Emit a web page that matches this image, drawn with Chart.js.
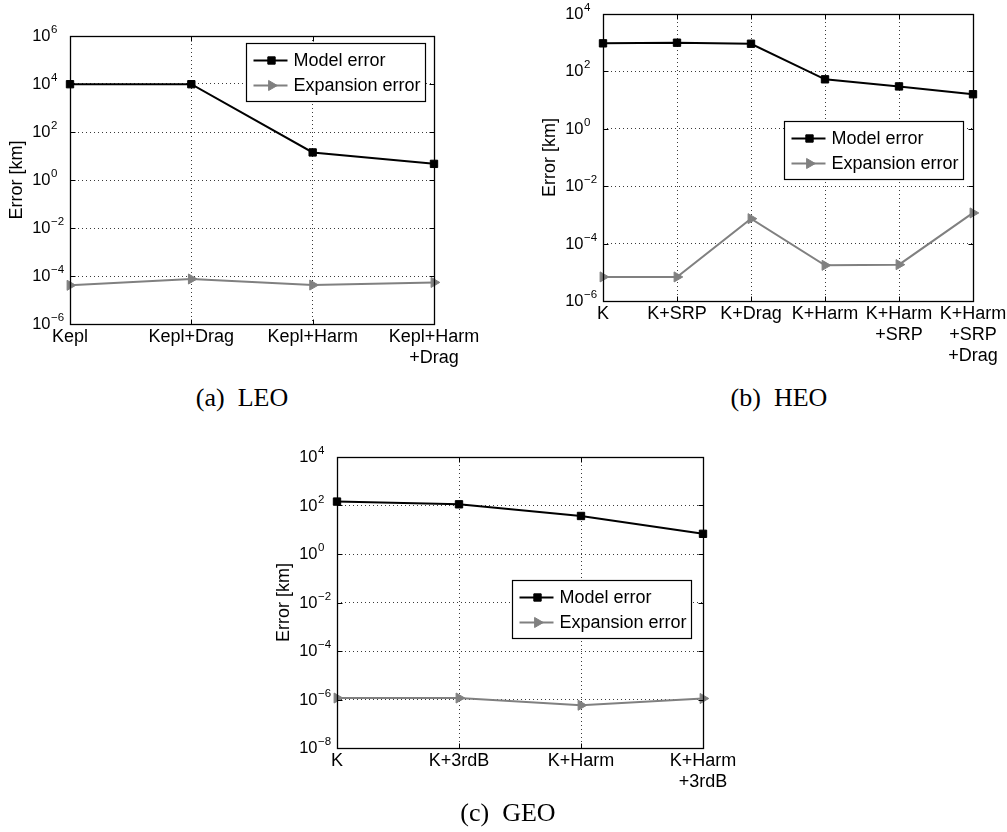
<!DOCTYPE html>
<html>
<head>
<meta charset="utf-8">
<script src="https://cdn.jsdelivr.net/npm/chart.js@4/dist/chart.umd.min.js"></script>
<style>
  html, body { margin: 0; padding: 0; background: #fff; }
  body { width: 1007px; height: 832px; position: relative; overflow: hidden; }
  canvas { position: absolute; display: block; }
  .cap {
    position: absolute;
    font-family: "Liberation Serif", "Times New Roman", serif;
    font-size: 26px; line-height: 26px; color: #000;
    white-space: pre; transform: translateX(-50%);
  }
</style>
</head>
<body>
<canvas id="cLEO" width="500" height="380" style="left:0px;top:0px"></canvas>
<canvas id="cHEO" width="474" height="380" style="left:533px;top:0px"></canvas>
<canvas id="cGEO" width="493" height="380" style="left:267px;top:420px"></canvas>
<div class="cap" style="left:242px;top:385px">(a)  LEO</div>
<div class="cap" style="left:779px;top:385px">(b)  HEO</div>
<div class="cap" style="left:508px;top:800px">(c)  GEO</div>

<script>
// ---- LEO ----
const leoLabels = ['Kepl', 'Kepl+Drag', 'Kepl+Harm', ['Kepl+Harm', '+Drag']];
const leoModel = [9800, 9800, 14.1, 4.7];
const leoExpansion = [4.1e-5, 7.5e-5, 4.2e-5, 5.4e-5];
const leoDecades = [-6, -4, -2, 0, 2, 4, 6];

// ---- HEO ----
const heoLabels = ['K', 'K+SRP', 'K+Drag', 'K+Harm', ['K+Harm', '+SRP'], ['K+Harm', '+SRP', '+Drag']];
const heoModel = [950, 1000, 920, 53, 30, 16];
const heoExpansion = [6.9e-6, 6.9e-6, 7.4e-4, 1.75e-5, 1.85e-5, 1.17e-3];
const heoDecades = [-6, -4, -2, 0, 2, 4];

// ---- GEO ----
const geoLabels = ['K', 'K+3rdB', 'K+Harm', ['K+Harm', '+3rdB']];
const geoModel = [145, 112, 37, 6.8];
const geoExpansion = [1.15e-6, 1.15e-6, 5.8e-7, 1.1e-6];
const geoDecades = [-8, -6, -4, -2, 0, 2, 4];

const seriesNames = ['Model error', 'Expansion error'];
const SANS = '"Liberation Sans", Arial, Helvetica, sans-serif';

// Box frame, inner tick marks, power-of-ten tick labels and the in-axes legend
const axesDecor = {
  id: 'axesDecor',
  afterDraw(chart, args, opts) {
    const { ctx, chartArea: a, scales } = chart;
    const xs = scales.x, ys = scales.y;
    const L = Math.round(a.left) + 0.5, R = Math.round(a.right) + 0.5;
    const T = Math.round(a.top) + 0.5, B = Math.round(a.bottom) + 0.5;
    ctx.save();

    // tick marks pointing inward on all four sides
    ctx.strokeStyle = '#000';
    ctx.lineWidth = 1;
    ctx.beginPath();
    ys.ticks.forEach(t => {
      const py = Math.round(ys.getPixelForValue(t.value)) + 0.5;
      ctx.moveTo(L, py); ctx.lineTo(L + 5, py);
      ctx.moveTo(R, py); ctx.lineTo(R - 5, py);
    });
    xs.ticks.forEach((t, i) => {
      const px = Math.round(xs.getPixelForTick(i)) + 0.5;
      ctx.moveTo(px, B); ctx.lineTo(px, B - 5);
      ctx.moveTo(px, T); ctx.lineTo(px, T + 5);
    });
    ctx.stroke();

    // axes box
    ctx.lineWidth = 1.3;
    ctx.strokeRect(L, T, R - L, B - T);

    // y tick labels: 10 with a raised exponent
    ctx.fillStyle = '#000';
    ys.ticks.forEach(t => {
      const e = Math.round(Math.log10(t.value));
      const py = ys.getPixelForValue(t.value);
      ctx.font = '16.5px ' + SANS;
      ctx.textAlign = 'right';
      ctx.textBaseline = 'middle';
      ctx.fillText('10', a.left - 19.5, py + 0.5);
      ctx.font = '11.5px ' + SANS;
      ctx.textAlign = 'left';
      ctx.textBaseline = 'alphabetic';
      const ex = e < 0 ? '\u2212' + (-e) : String(e);
      ctx.fillText(ex, a.left - 19, py - 3);
    });

    // legend
    const lg = opts.legend;
    ctx.font = '18px ' + SANS;
    const sets = chart.data.datasets;
    const tw = Math.max(...sets.map(d => ctx.measureText(d.label).width));
    const w = Math.round(47 + tw + 5), h = 58;
    const bx = Math.round(a.right - lg.right - w) + 0.5;
    const by = Math.round(a.top + lg.top) + 0.5;
    ctx.fillStyle = '#fff';
    ctx.fillRect(bx, by, w, h);
    ctx.strokeStyle = '#000';
    ctx.lineWidth = 1.2;
    ctx.strokeRect(bx, by, w, h);
    sets.forEach((d, i) => {
      const ry = by + 17 + i * 25;
      ctx.strokeStyle = d.borderColor;
      ctx.lineWidth = d.borderWidth;
      ctx.beginPath();
      ctx.moveTo(bx + 7, ry); ctx.lineTo(bx + 41, ry);
      ctx.stroke();
      ctx.fillStyle = d.pointBackgroundColor;
      ctx.strokeStyle = d.pointBorderColor;
      ctx.lineWidth = d.pointBorderWidth;
      Chart.helpers.drawPoint(ctx, {
        pointStyle: d.pointStyle, rotation: d.pointRotation || 0,
        radius: d.pointRadius, borderWidth: d.pointBorderWidth
      }, bx + 25, ry);
      ctx.fillStyle = '#000';
      ctx.textAlign = 'left';
      ctx.textBaseline = 'middle';
      ctx.fillText(d.label, bx + 47, ry + 1);
    });
    ctx.restore();
  }
};

function errorChart(id, labels, model, expansion, decades, box) {
  return new Chart(document.getElementById(id), {
    type: 'line',
    data: {
      labels: labels,
      datasets: [
        {
          label: seriesNames[0], data: model,
          borderColor: '#000', backgroundColor: '#000', borderWidth: 2,
          pointStyle: 'rect', pointRadius: 5.2,
          pointBackgroundColor: '#000', pointBorderColor: '#000', pointBorderWidth: 1,
          tension: 0, clip: false
        },
        {
          label: seriesNames[1], data: expansion,
          borderColor: '#808080', backgroundColor: '#808080', borderWidth: 2,
          pointStyle: 'triangle', pointRotation: 90, pointRadius: 5.8,
          pointBackgroundColor: '#808080', pointBorderColor: '#808080', pointBorderWidth: 1,
          tension: 0, clip: false
        }
      ]
    },
    options: {
      responsive: false,
      animation: false,
      events: [],
      layout: { autoPadding: false, padding: { left: 0, top: box.top, right: box.right, bottom: 0 } },
      plugins: {
        legend: { display: false },
        tooltip: { enabled: false },
        axesDecor: { legend: box.legend }
      },
      scales: {
        x: {
          type: 'category', offset: false,
          grid: { color: '#3a3a3a', lineWidth: 1, drawTicks: false },
          border: { display: false, dash: [1, 3] },
          ticks: {
            color: '#000', padding: 3, maxRotation: 0, minRotation: 0, autoSkip: false,
            font: { family: SANS, size: 18, lineHeight: 1.15 }
          },
          afterFit(s) { s.height = box.xHeight; s.paddingLeft = 0; s.paddingRight = 0; }
        },
        y: {
          type: 'logarithmic',
          min: Math.pow(10, decades[0]), max: Math.pow(10, decades[decades.length - 1]),
          grid: { color: '#3a3a3a', lineWidth: 1, drawTicks: false },
          border: { display: false, dash: [1, 3] },
          ticks: { display: false },
          afterBuildTicks(s) { s.ticks = decades.map(e => ({ value: Math.pow(10, e) })); },
          afterFit(s) { s.width = 70; s.paddingTop = 0; s.paddingBottom = 0; },
          title: {
            display: true, text: 'Error [km]', color: '#000',
            font: { family: SANS, size: 18 }, padding: { top: 6, bottom: 0 }
          }
        }
      }
    },
    plugins: [axesDecor]
  });
}

errorChart('cLEO', leoLabels, leoModel, leoExpansion, leoDecades,
  { top: 36, right: 66, xHeight: 56, legend: { right: 9, top: 7 } });
errorChart('cHEO', heoLabels, heoModel, heoExpansion, heoDecades,
  { top: 14, right: 34, xHeight: 79, legend: { right: 10, top: 107 } });
errorChart('cGEO', geoLabels, geoModel, geoExpansion, geoDecades,
  { top: 37, right: 57, xHeight: 52, legend: { right: 12, top: 123 } });
</script>
</body>
</html>
